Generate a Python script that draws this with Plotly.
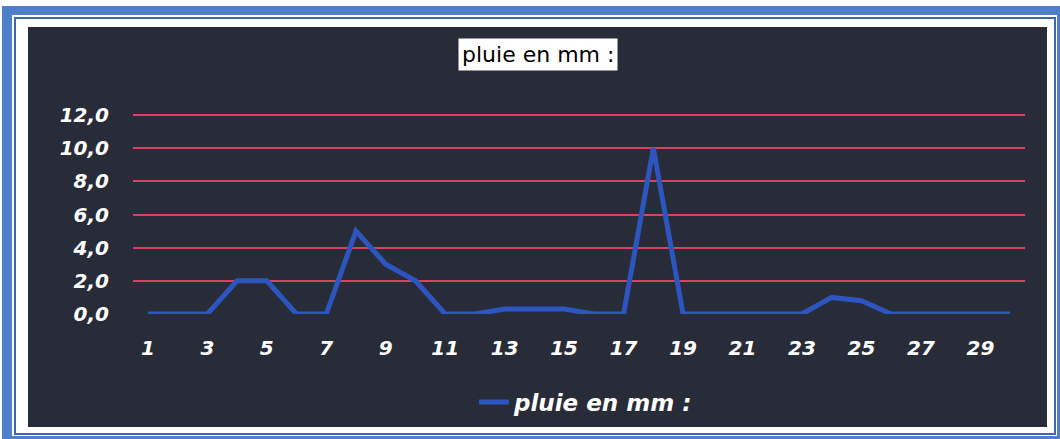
import plotly.graph_objects as go

# ---- data ----
days = list(range(1, 31))
rain_mm = [0, 0, 0, 2, 2, 0, 0, 5, 3, 2,
           0, 0, 0.3, 0.3, 0.3, 0, 0, 10, 0, 0,
           0, 0, 0, 1, 0.8, 0, 0, 0, 0, 0]
x_tick_vals = list(range(1, 30, 2))
x_tick_text = [str(v) for v in x_tick_vals]
y_tick_vals = [0, 2, 4, 6, 8, 10, 12]
y_tick_text = ["0,0", "2,0", "4,0", "6,0", "8,0", "10,0", "12,0"]
series_name = "pluie en mm :"
chart_title = "pluie en mm :"

# ---- layout geometry (pixels) ----
W, H = 1060, 439
Y0_PX, Y12_PX = 314, 115          # pixel rows of 0 and 12
unit = (Y0_PX - Y12_PX) / 12.0
ML, MR, MT = 133, 35, 112
MB = H - Y0_PX
PW, PH = W - ML - MR, H - MT - MB
y_top = (Y0_PX - MT) / unit


def px(x):
    return (x - ML) / PW


def py(y):
    return 1 - (y - MT) / PH


BG = "#282c38"
GRID = "#d8425f"
LINE = "#2c55c0"
FRAME = "#4f7fc8"

fig = go.Figure()
fig.add_trace(go.Scatter(
    x=days, y=rain_mm, mode="lines", name=series_name,
    line=dict(color=LINE, width=5), cliponaxis=False,
))

shapes = [
    dict(type="rect", xref="paper", yref="paper", x0=px(2), x1=px(1060), y0=py(6), y1=py(439),
         fillcolor=FRAME, line=dict(width=0), layer="below"),
    dict(type="rect", xref="paper", yref="paper", x0=px(12), x1=px(1057), y0=py(15), y1=py(436),
         fillcolor="white", line=dict(width=0), layer="below"),
    dict(type="rect", xref="paper", yref="paper", x0=px(15), x1=px(1055), y0=py(18), y1=py(434),
         fillcolor="rgba(0,0,0,0)", line=dict(width=2, color="#3a66b8"), layer="below"),
    dict(type="rect", xref="paper", yref="paper", x0=px(28), x1=px(1047), y0=py(27), y1=py(427),
         fillcolor=BG, line=dict(width=0), layer="below"),
]

tick_font = dict(family="DejaVu Sans", size=20, color="white", weight="bold", style="italic")

fig.update_layout(
    width=W, height=H,
    margin=dict(l=ML, r=MR, t=MT, b=MB, pad=0),
    paper_bgcolor="white",
    plot_bgcolor="rgba(0,0,0,0)",
    shapes=shapes,
    showlegend=True,
    legend=dict(
        orientation="h", x=px(474), y=py(402), xanchor="left", yanchor="middle",
        bgcolor="rgba(0,0,0,0)",
        font=dict(family="DejaVu Sans", size=23, color="white", weight="bold", style="italic"),
    ),
    annotations=[dict(
        text=chart_title, xref="paper", yref="paper", x=px(538), y=py(55),
        xanchor="center", yanchor="middle", showarrow=False,
        font=dict(family="DejaVu Sans", size=22, color="black"),
        bgcolor="white", borderpad=3,
    )],
    xaxis=dict(
        range=[0.5, 30.5], tickvals=x_tick_vals, ticktext=x_tick_text,
        showgrid=False, zeroline=False, showline=False,
        ticks="outside", ticklen=16, tickcolor="rgba(0,0,0,0)",
        tickfont=tick_font,
    ),
    yaxis=dict(
        range=[0, y_top], tickvals=y_tick_vals, ticktext=y_tick_text,
        showgrid=True, gridcolor=GRID, gridwidth=2,
        zeroline=True, zerolinecolor=BG, zerolinewidth=1,
        showline=False,
        ticks="outside", ticklen=19, tickcolor="rgba(0,0,0,0)",
        tickfont=tick_font,
    ),
)

fig.write_html("out.html", config={"displayModeBar": False},
               post_script="document.body.style.margin='0px';")
